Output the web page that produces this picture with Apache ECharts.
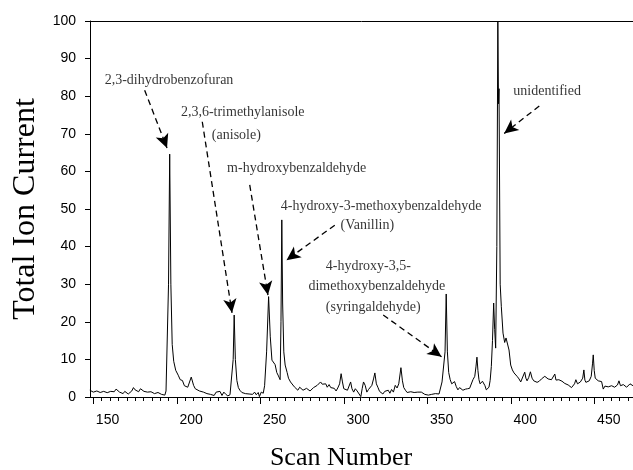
<!DOCTYPE html>
<html>
<head>
<meta charset="utf-8">
<script src="https://cdn.jsdelivr.net/npm/echarts@6/dist/echarts.min.js"></script>
<style>
html, body { margin: 0; padding: 0; background: #fff; }
#chart { width: 633px; height: 470px; }
</style>
</head>
<body>
<div id="chart"></div>
<script>
// trace: scan number / total ion current
const scan = [
  139.4, 140.5, 141.5, 142.6, 143.6, 144.6, 145.6, 146.7, 147.7, 148.8,
  149.8, 150.9, 151.9, 153.0, 154.0, 155.1, 156.1, 157.2, 158.2, 159.3,
  160.3, 161.3, 162.4, 163.4, 164.5, 165.5, 166.5, 167.6, 168.6, 169.7,
  170.7, 171.8, 172.8, 173.9, 175.0, 176.0, 177.0, 178.1, 179.1, 180.2,
  181.2, 182.3, 183.3, 184.3, 185.0, 185.8, 186.5, 187.2, 187.9, 188.7,
  189.6, 190.8, 192.3, 193.5, 194.8, 196.0, 196.9, 198.0, 198.6, 200.1,
  201.5, 202.5, 203.5, 205.0, 206.0, 207.4, 208.5, 209.5, 210.5, 211.6,
  212.7, 213.8, 215.0, 216.0, 217.3, 218.5, 219.6, 220.8, 222.0, 223.3,
  224.3, 225.2, 225.8, 226.5, 227.4, 228.3, 229.2, 230.4, 231.5, 232.5,
  233.5, 234.7, 235.8, 236.8, 238.0, 239.0, 240.2, 240.9, 242.0, 243.2,
  244.0, 245.2, 246.4, 247.4, 248.4, 249.3, 250.3, 251.3, 252.3, 253.3,
  253.8, 254.3, 254.8, 255.5, 256.3, 257.5, 258.3, 259.5, 260.5, 261.8,
  262.8, 263.9, 265.0, 266.0, 267.0, 268.1, 269.1, 270.2, 271.2, 272.3,
  273.3, 274.4, 275.5, 276.5, 277.5, 278.5, 279.5, 280.6, 281.5, 282.6,
  283.6, 284.7, 285.7, 286.8, 287.8, 288.9, 289.8, 290.6, 291.4, 292.5,
  293.6, 294.6, 295.5, 296.3, 297.3, 298.3, 299.4, 300.5, 301.6, 302.4,
  303.2, 304.2, 305.2, 306.2, 307.2, 308.2, 309.2, 310.0, 310.9, 311.8,
  312.8, 313.7, 314.8, 315.9, 316.9, 318.0, 319.0, 320.0, 321.1, 322.2,
  323.3, 324.3, 325.6, 326.5, 327.3, 328.3, 329.3, 330.4, 331.5, 332.6,
  333.5, 334.5, 335.7, 336.7, 337.8, 338.8, 339.9, 340.9, 342.0, 343.0,
  344.0, 345.1, 346.2, 347.3, 348.4, 349.5, 350.2, 351.3, 352.0, 352.7,
  353.4, 354.2, 355.1, 356.0, 356.8, 357.7, 358.7, 359.7, 360.7, 361.7,
  362.7, 363.5, 364.3, 365.5, 366.7, 367.7, 368.7, 369.8, 370.5, 371.1,
  371.7, 372.3, 373.0, 373.7, 374.4, 375.1, 375.9, 376.7, 377.5, 378.3,
  379.0, 379.7, 380.4, 381.1, 381.7, 382.3, 383.0, 383.6, 384.0, 384.3,
  385.0, 385.7, 386.7, 387.7, 388.5, 389.3, 390.3, 391.3, 392.3, 393.3,
  394.3, 395.3, 396.3, 397.3, 398.3, 399.7, 400.4, 401.1, 402.1, 403.1,
  404.1, 405.1, 406.1, 407.1, 408.4, 409.7, 410.7, 411.7, 412.7, 413.7,
  414.7, 415.7, 416.7, 417.7, 418.4, 419.1, 420.1, 421.1, 422.0, 422.7,
  423.7, 424.7, 425.7, 426.7, 427.7, 428.7, 429.5, 430.3, 431.3, 432.3,
  433.0, 433.7, 434.4, 435.1, 435.7, 436.3, 437.3, 438.3, 439.5, 440.3,
  440.7, 441.3, 441.9, 442.8, 443.7, 444.7, 445.7, 446.7, 447.7, 448.7,
  449.7, 450.7, 451.7, 452.7, 453.5, 454.3, 455.2, 456.1, 457.0, 457.7,
  458.7, 459.7, 460.7, 461.7, 462.7, 463.7, 464.5
];
const current = [
  1.8, 1.5, 1.3, 1.7, 1.6, 1.1, 1.2, 1.6, 1.5, 1.0,
  1.15, 1.6, 1.5, 1.2, 1.4, 2.1, 1.6, 1.3, 1.1, 0.9,
  1.5, 1.3, 0.8, 1.1, 1.6, 2.5, 1.9, 1.6, 1.4, 2.2,
  1.7, 1.5, 1.2, 1.3, 1.5, 1.4, 1.1, 0.9, 1.4, 1.2,
  0.8, 0.7, 1.0, 0.5, 1.6, 1.8, 30, 64.6, 30, 14,
  9.5, 7.1, 5.8, 4.6, 4.4, 3.0, 2.7, 2.6, 3.0, 5.3,
  3.1, 2.2, 2.0, 1.6, 1.8, 1.3, 1.2, 0.9, 1.4, 0.7,
  1.2, 0.4, 1.3, 0.8, 1.5, 0.4, 1.3, 0.7, 0.3, 0.6,
  1.0, 10, 21.8, 10, 4.4, 2.5, 1.8, 1.2, 1.5, 0.9,
  1.3, 0.8, 1.2, 0.7, 1.3, 0.6, 1.2, 0.1, 1.3, 1.0,
  3.0, 12, 26.7, 16, 9.8, 9.4, 8.6, 6.5, 5.6, 4.6,
  20, 47.1, 25, 12, 8.5, 6.5, 5.0, 4.0, 3.6, 2.7,
  2.4, 1.8, 2.6, 2.2, 1.8, 1.5, 2.3, 2.0, 1.6, 2.1,
  2.5, 2.0, 3.1, 3.6, 4.0, 3.4, 3.1, 3.5, 2.6, 3.3,
  2.5, 2.0, 2.3, 1.6, 2.4, 3.5, 6.2, 4.0, 2.2, 2.6,
  1.8, 2.3, 4.0, 2.2, 1.3, 2.2, 1.6, 1.1, 0.1, 2.2,
  4.0, 3.1, 1.3, 2.0, 2.5, 3.1, 4.8, 6.4, 3.5, 2.6,
  1.5, 2.0, 0.8, 1.5, 1.2, 1.8, 1.0, 2.0, 1.3, 3.1,
  2.4, 3.5, 7.8, 4.3, 2.5, 1.8, 1.2, 0.9, 1.4, 0.9,
  1.2, 0.7, 1.3, 1.0, 1.3, 0.9, 0.7, 1.2, 0.5, 1.0,
  0.7, 0.5, 0.9, 0.9, 0.8, 0.6, 4.0, 4.0, 12, 27.4,
  12, 6.5, 4.6, 3.5, 3.3, 4.1, 2.8, 1.9, 2.5, 2.6,
  1.8, 2.3, 2.1, 2.2, 2.3, 2.8, 4.6, 5.5, 8.0, 10.6,
  7.0, 4.6, 3.5, 3.7, 4.2, 4.1, 3.0, 1.9, 1.6, 2.6,
  4.4, 8.1, 15, 25, 18, 13, 40, 100, 78, 82,
  30, 24, 17, 14.5, 15.7, 15.2, 12.5, 8.5, 7.2, 6.4,
  6.0, 5.4, 4.8, 4.0, 4.3, 6.6, 5.0, 4.3, 5.2, 6.7,
  5.0, 4.3, 4.5, 3.9, 4.2, 4.8, 5.0, 5.5, 5.0, 4.8,
  5.1, 4.6, 4.9, 6.1, 4.5, 4.3, 4.6, 4.8, 4.2, 4.1,
  3.6, 3.7, 3.2, 2.8, 2.5, 2.1, 3.5, 4.6, 3.5, 3.7,
  4.0, 4.1, 5.0, 7.2, 4.5, 3.9, 4.1, 4.3, 5.5, 9.0,
  11.2, 7.0, 5.0, 4.5, 4.3, 4.2, 4.1, 2.1, 2.9, 3.2,
  2.7, 2.6, 3.0, 3.2, 2.6, 2.3, 3.2, 4.3, 3.0, 2.8,
  3.3, 3.4, 2.6, 2.8, 3.5, 3.3, 3.0
];

const xLabels = [150, 200, 250, 300, 350, 400, 450];
const xMajorTicks = [141.5, 191.5, 241.5, 291.5, 341.5, 391.5, 441.5];

// peak names and where the text sits (scan, current)
const peakNames = [
  '2,3-dihydrobenzofuran', '2,3,6-trimethylanisole', '(anisole)',
  'm-hydroxybenzaldehyde', '4-hydroxy-3-methoxybenzaldehyde', '(Vanillin)',
  '4-hydroxy-3,5-', 'dimethoxybenzaldehyde', '(syringaldehyde)', 'unidentified'
];
const namePos = [
  [186.8, 84.3], [230.9, 75.6], [227.1, 69.7],
  [263.2, 60.8], [313.7, 50.8], [305.5, 45.7],
  [306.1, 34.8], [311.2, 29.5], [309.0, 23.9], [413.1, 81.2]
];
// dashed arrows, tail -> head
const arrowFrom = [[172.2, 81.6], [206.7, 73.2], [235.1, 56.4], [286.0, 45.7], [315.0, 21.8], [408.4, 77.4]];
const arrowTo = [[185.6, 66.2], [224.5, 22.4], [246.0, 27.1], [257.1, 36.4], [349.9, 10.7], [387.4, 70.1]];

const xMin = 139.5, xMax = 464.5;
const minorTicks = [];
for (let t = 141.5; t <= xMax; t += 5) minorTicks.push(t);

const chart = echarts.init(document.getElementById('chart'));
chart.setOption({
  animation: false,
  grid: { left: 90, right: 0, top: 21, bottom: 73, outerBoundsMode: 'none', containLabel: false },
  xAxis: [
    {
      type: 'value', min: xMin, max: xMax, position: 'bottom',
      axisLine: { lineStyle: { color: '#000', width: 1 } },
      axisTick: { show: true, length: 4, customValues: minorTicks, lineStyle: { color: '#000' } },
      axisLabel: { customValues: xLabels, color: '#000', fontFamily: 'Liberation Sans', fontSize: 14, margin: 16 },
      splitLine: { show: false },
      name: 'Scan Number',
      nameLocation: 'middle',
      nameGap: 48,
      nameTextStyle: { fontFamily: 'Liberation Serif', fontSize: 26, color: '#000', padding: [0, 41, 0, 0] }
    },
    {
      type: 'value', min: xMin, max: xMax, position: 'bottom',
      axisLine: { show: false },
      axisTick: { show: true, length: 7, customValues: xMajorTicks, lineStyle: { color: '#000' } },
      axisLabel: { show: false },
      splitLine: { show: false }
    },
    {
      type: 'value', min: xMin, max: xMax, position: 'top',
      axisLine: { show: true, lineStyle: { color: '#000', width: 1 } },
      axisTick: { show: false },
      axisLabel: { show: false },
      splitLine: { show: false }
    }
  ],
  yAxis: {
    type: 'value', min: 0, max: 100, interval: 10,
    axisLine: { show: true, lineStyle: { color: '#000', width: 1 } },
    axisTick: { show: true, length: 5, lineStyle: { color: '#000' } },
    axisLabel: { color: '#000', fontFamily: 'Liberation Sans', fontSize: 14, margin: 14 },
    splitLine: { show: false },
    name: 'Total Ion Current',
    nameLocation: 'middle',
    nameGap: 40,
    nameTextStyle: { fontFamily: 'Liberation Serif', fontSize: 32, color: '#000' }
  },
  series: [
    {
      type: 'line',
      xAxisIndex: 0,
      data: scan.map((s, i) => [s, current[i]]),
      showSymbol: false,
      symbol: 'none',
      lineStyle: { color: '#000', width: 1 },
      silent: true
    },
    {
      type: 'scatter',
      xAxisIndex: 0,
      data: namePos.map((p, i) => [p[0], p[1], peakNames[i]]),
      symbolSize: 1,
      itemStyle: { color: 'rgba(0,0,0,0)' },
      silent: true,
      label: {
        show: true,
        position: 'inside',
        formatter: p => p.data[2],
        color: '#000',
        textBorderWidth: 0,
        fontFamily: 'Liberation Serif',
        fontSize: 14
      },
      markLine: {
        silent: true,
        symbol: ['none', 'arrow'],
        symbolSize: [10, 14],
        label: { show: false },
        lineStyle: { color: '#000', width: 1.3, type: [6, 4] },
        data: arrowFrom.map((a, i) => [{ coord: a }, { coord: arrowTo[i] }])
      }
    }
  ]
});
</script>
</body>
</html>
